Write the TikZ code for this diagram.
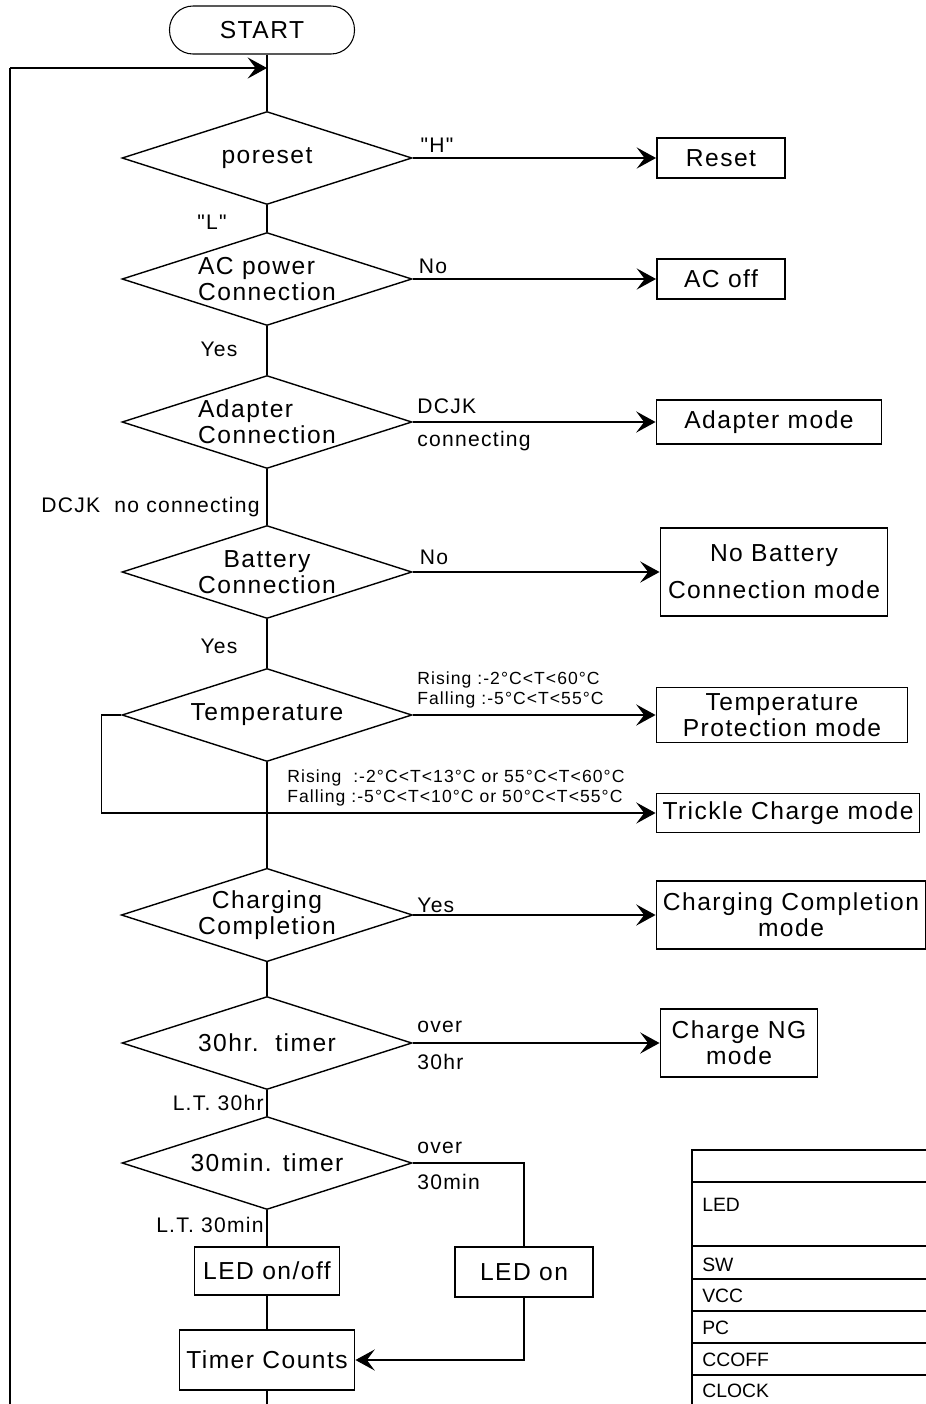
\documentclass[tikz,border=0pt]{standalone}
\usepackage{fontspec}
\setmainfont{Liberation Sans}
\newfontfamily\wide{Liberation Sans}[LetterSpace=6]
\usetikzlibrary{shapes.geometric,arrows.meta}
\begin{document}
\begin{tikzpicture}[x=0.02cm, y=-0.02cm,
  txt/.style={font=\wide\fontsize{14}{15}\selectfont},
  lbl/.style={font=\wide\fontsize{12}{13}\selectfont, inner sep=0pt},
  cond/.style={font=\wide\fontsize{10}{11}\selectfont, inner sep=0pt, align=left},
  tab/.style={font=\fontsize{11}{12}\selectfont, inner sep=0pt, anchor=west},
  dec/.style={txt, shape=diamond, draw, line width=0.8pt, aspect=3.12,
    minimum width=5.8cm, minimum height=1.86cm, inner sep=0pt},
  box/.style={txt, draw, line width=1.1pt, inner sep=0pt, align=center},
  flow/.style={line width=1.1pt},
  thinline/.style={line width=0.6pt},
  go/.style={line width=1.1pt, -{Stealth[length=11pt, width=12pt, inset=4.5pt]}}]
\useasboundingbox (0,0) rectangle (926,1404);

% main column
\node[txt, draw, line width=0.6pt, rounded corners=0.47cm, minimum width=3.7cm, minimum height=0.96cm] (start) at (262,30) {START};
\node[dec] (por) at (267,158) {poreset};
\node[dec, align=left] (ac) at (267,279) {AC power\\Connection};
\node[dec, align=left] (adp) at (267,422) {Adapter\\Connection};
\node[dec, align=center] (bat) at (267,572) {Battery\\Connection};
\node[dec] (temp) at (267,715) {Temperature};
\node[dec, align=center] (chg) at (267,915) {Charging\\Completion};
\node[dec] (hr30) at (267,1043) {30hr.\ \ timer};
\node[dec] (min30) at (267,1163) {30min. timer};
\node[box, minimum width=2.9cm, minimum height=0.96cm] (ledoff) at (267,1271) {LED on/off};
\node[box, minimum width=2.76cm, minimum height=1cm] (ledon) at (524,1272) {LED on};
\node[box, minimum width=3.5cm, minimum height=1.2cm] (timer) at (267,1360) {Timer Counts};

% right column
\node[box, minimum width=2.56cm, minimum height=0.8cm] (reset) at (721,158) {Reset};
\node[box, minimum width=2.56cm, minimum height=0.8cm] (acoff) at (721,279) {AC off};
\node[box, minimum width=4.5cm, minimum height=0.88cm] (adpmode) at (769,422) {Adapter mode};
\node[box, minimum width=4.54cm, minimum height=1.76cm] (nobat) at (774,572) {No Battery\\[6pt]Connection mode};
\node[box, minimum width=5.02cm, minimum height=1.1cm] (tprot) at (782,715) {Temperature\\Protection mode};
\node[box, minimum width=5.26cm, minimum height=0.78cm] (trickle) at (788,813) {Trickle Charge mode};
\node[box, minimum width=5.38cm, minimum height=1.36cm] (chgmode) at (791,915) {Charging Completion\\mode};
\node[box, minimum width=3.14cm, minimum height=1.36cm] (ngmode) at (739,1043) {Charge NG\\mode};

\coordinate (loop) at (267,68);
\coordinate (corner) at (10,68);
\coordinate (ret) at (10,1404);
\coordinate (tail) at (267,1404);

% connectors
\draw[flow] (start.south -| loop) -- (por);
\draw[thinline] (ret) -- (corner);
\draw[go] (corner) -- (loop);
\draw[flow] (por) -- (ac);
\draw[flow] (ac) -- (adp);
\draw[flow] (adp) -- (bat);
\draw[flow] (bat) -- (temp);
\draw[flow] (temp) -- (chg);
\draw[flow] (chg) -- (hr30);
\draw[flow] (hr30) -- (min30);
\draw[flow] (min30) -- (ledoff);
\draw[flow] (ledoff) -- (timer);
\draw[flow] (timer) -- (tail);
\draw[go] (por) -- (reset);
\draw[go] (ac) -- (acoff);
\draw[go] (adp) -- (adpmode);
\draw[go] (bat) -- (nobat);
\draw[go] (temp) -- (tprot);
\draw[go, line width=0.6pt] (temp.west) -- ++(-20,0) |- (trickle);
\draw[go] (chg) -- (chgmode);
\draw[go] (hr30) -- (ngmode);
\draw[thinline] (min30.east) -| (ledon);
\draw[go, line width=0.6pt] (ledon) |- (timer);

% labels
\node[lbl] (h) at (437,145) {"H"};
\node[lbl] (l) at (212,222) {"L"};
\node[lbl] (acno) at (433,266) {No};
\node[lbl] (acyes) at (219,349) {Yes};
\node[lbl, anchor=west] (dcjk) at (417,406) {DCJK};
\node[lbl, anchor=west] (conn) at (417,441) {connecting};
\node[lbl, anchor=east] (noconn) at (260,507) {DCJK\ \ no connecting};
\node[lbl] (batno) at (434,557) {No};
\node[lbl] (batyes) at (219,646) {Yes};
\node[cond, anchor=west] (tcond) at (417,690) {Rising :-2°C<T<60°C\\Falling :-5°C<T<55°C};
\node[cond, anchor=west] (tcond2) at (287,788) {Rising\ \ :-2°C<T<13°C or 55°C<T<60°C\\Falling :-5°C<T<10°C or 50°C<T<55°C};
\node[lbl, anchor=west] (chgyes) at (417,905) {Yes};
\node[lbl, anchor=west] (hrover) at (417,1027) {over};
\node[lbl, anchor=west] (hrval) at (417,1062) {30hr};
\node[lbl, anchor=east] (hrlt) at (264,1103) {L.T. 30hr};
\node[lbl, anchor=west] (minover) at (417,1148) {over};
\node[lbl, anchor=west] (minval) at (417,1182) {30min};
\node[lbl, anchor=east] (minlt) at (264,1225) {L.T. 30min};

% signal table
\draw[flow] (926,1150) -- (692,1150) -- (692,1404);
\foreach \yy in {1182,1246,1279,1311,1343,1375}
  \draw[flow] (692,\yy) -- (926,\yy);
\node[tab] (led) at (702,1205) {LED};
\node[tab] (sw) at (702,1265) {SW};
\node[tab] (vcc) at (702,1296) {VCC};
\node[tab] (pc) at (702,1328) {PC};
\node[tab] (ccoff) at (702,1360) {CCOFF};
\node[tab] (clock) at (702,1391) {CLOCK};
\end{tikzpicture}
\end{document}
